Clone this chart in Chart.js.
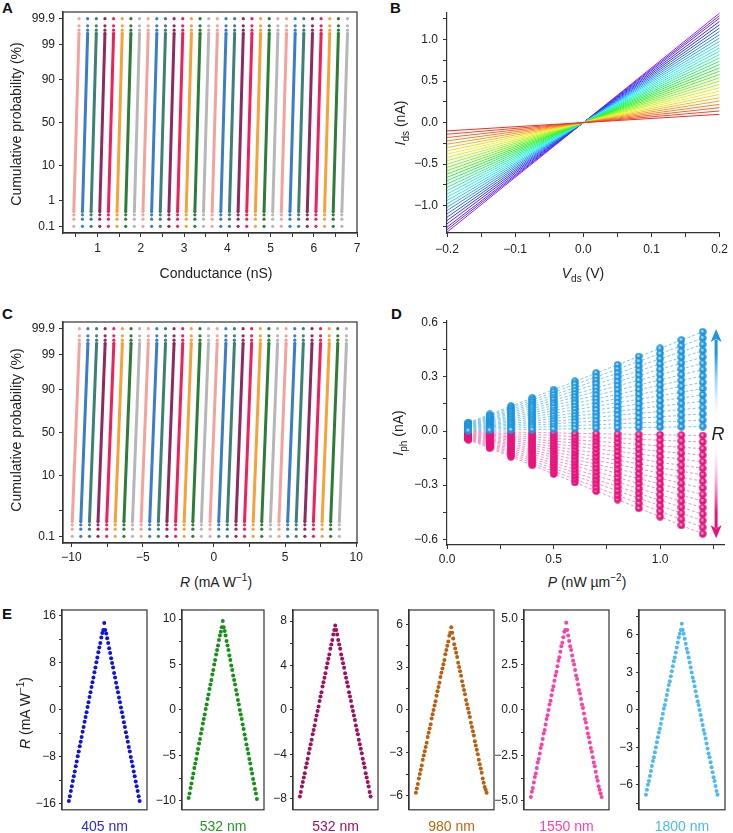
<!DOCTYPE html>
<html><head><meta charset="utf-8">
<script src="https://cdn.jsdelivr.net/npm/chart.js@4.4.1/dist/chart.umd.min.js"></script>
<style>
body{margin:0;background:#fff;width:733px;height:833px;position:relative;overflow:hidden;font-family:"Liberation Sans",Arial,sans-serif;color:#222}
canvas{position:absolute}
.lab{position:absolute;font-size:14px;white-space:nowrap;transform:translate(-50%,-50%);line-height:1}
.rot{transform:translate(-50%,-50%) rotate(-90deg)}
.let{position:absolute;font-weight:bold;font-size:15px;line-height:1;color:#111}
sub,sup{font-size:10px;line-height:0}
</style></head><body>
<div class="let" style="left:2px;top:0px">A</div>
<div class="let" style="left:390px;top:0px">B</div>
<div class="let" style="left:2px;top:306px">C</div>
<div class="let" style="left:391px;top:306px">D</div>
<div class="let" style="left:2px;top:606px">E</div>

<canvas id="cA" width="370" height="270" style="left:0;top:0"></canvas>
<canvas id="cB" width="363" height="270" style="left:370px;top:0"></canvas>
<canvas id="cC" width="370" height="270" style="left:0;top:300px"></canvas>
<canvas id="cD" width="363" height="270" style="left:370px;top:300px"></canvas>

<div class="lab rot" style="left:16px;top:124px">Cumulative probability (%)</div>
<div class="lab" style="left:216px;top:273px">Conductance (nS)</div>
<div class="lab rot" style="left:400px;top:123px"><i>I</i><sub>ds</sub> (nA)</div>
<div class="lab" style="left:583px;top:273px"><i>V</i><sub>ds</sub> (V)</div>
<div class="lab rot" style="left:16px;top:430px">Cumulative probability (%)</div>
<div class="lab" style="left:216px;top:582px"><i>R</i> (mA W<sup>−1</sup>)</div>
<div class="lab rot" style="left:398px;top:433px"><i>I</i><sub>ph</sub> (nA)</div>
<div class="lab" style="left:587px;top:582px"><i>P</i> (nW µm<sup>−2</sup>)</div>
<div class="lab rot" style="left:25px;top:713px"><i>R</i> (mA W<sup>−1</sup>)</div>
<div class="lab" style="left:718px;top:434px;font-size:18px"><i>R</i></div>

<script>
// ---------------- DATA ----------------
// Panel A / C : cumulative-probability levels of the visible end dots (%)
const probLow  = [0.1, 0.2, 0.3, 0.4];
const probHigh = [99.6, 99.7, 99.8, 99.9];
const probTicks  = [0.1, 1, 10, 50, 90, 99, 99.9];
const probLabelsA = ['0.1', '1', '10', '50', '90', '99', '99.9'];
const probLabelsC = ['0.1', '', '10', '50', '90', '99', '99.9'];
// Panel A: conductance (nS) of each of the 32 states at 0.1 % and 99.9 %
const aCondLow  = [0.45,0.65,0.85,1.05,1.25,1.45,1.65,1.85,2.05,2.25,2.45,2.65,2.85,3.05,3.25,3.45,3.65,3.85,4.05,4.25,4.45,4.65,4.85,5.05,5.25,5.45,5.65,5.85,6.05,6.25,6.45,6.65];
const aCondHigh = [0.57,0.77,0.97,1.17,1.37,1.57,1.77,1.97,2.17,2.37,2.57,2.77,2.97,3.17,3.37,3.57,3.77,3.97,4.17,4.37,4.57,4.77,4.97,5.17,5.37,5.57,5.77,5.97,6.17,6.37,6.57,6.78];
const aXTicks = [1,2,3,4,5,6,7];
const aXLabels = ['1','2','3','4','5','6','7'];
const aXMinor = [0.5,1.5,2.5,3.5,4.5,5.5,6.5];
// Panel C: responsivity (mA/W) of each state at 0.1 % and 99.9 %
const cRespLow  = [-9.95,-9.35,-8.74,-8.14,-7.53,-6.93,-6.32,-5.72,-5.11,-4.51,-3.90,-3.30,-2.69,-2.09,-1.48,-0.88,-0.27,0.34,0.94,1.55,2.15,2.76,3.36,3.97,4.57,5.18,5.78,6.39,6.99,7.60,8.20,8.81];
const cRespHigh = [-9.45,-8.85,-8.24,-7.64,-7.03,-6.43,-5.82,-5.22,-4.61,-4.01,-3.40,-2.80,-2.19,-1.59,-0.98,-0.38,0.23,0.84,1.44,2.05,2.65,3.26,3.86,4.47,5.07,5.68,6.28,6.89,7.49,8.10,8.70,9.31];
const cXTicks = [-10,-5,0,5,10];
const cXLabels = ['−10','−5','0','5','10'];
const cXMinor = [-7.5,-2.5,2.5,7.5];
const seriesColors = ['#F4A39C','#3B7EC4','#3E8078','#8E2A62','#F01F5E','#F6A23A','#2F7C3A','#B7B7B7'];

// Panel B: I_ds (nA) of each curve at V_ds = +0.2 V (curves are odd: -I at -0.2 V)
const bVds = [-0.2, 0.2];
const bIdsAt02 = [0.10,0.14,0.18,0.22,0.26,0.30,0.34,0.38,0.42,0.46,0.50,0.54,0.58,0.62,0.66,0.70,0.74,0.78,0.82,0.86,0.90,0.94,0.98,1.02,1.06,1.10,1.14,1.18,1.22,1.26,1.29,1.32];
const bXTicks = [-0.2,-0.1,0,0.1,0.2];
const bXLabels = ['−0.2','−0.1','0.0','0.1','0.2'];
const bXMinor = [-0.15,-0.05,0.05,0.15];
const bYTicks = [-1,-0.5,0,0.5,1];
const bYLabels = ['−1.0','−0.5','0.0','0.5','1.0'];
const bYMinor = [-1.25,-0.75,-0.25,0.25,0.75,1.25];

// Panel D: photocurrent I_ph (nA) vs power density P
const dPower = [0.1,0.2,0.3,0.4,0.5,0.6,0.7,0.8,0.9,1.0,1.1,1.2];
const dIphPos = [
 [0.046,0.092,0.138,0.183,0.229,0.275,0.321,0.367,0.413,0.458,0.504,0.550],
 [0.043,0.086,0.129,0.172,0.215,0.258,0.300,0.343,0.386,0.429,0.472,0.515],
 [0.040,0.080,0.120,0.160,0.200,0.240,0.280,0.320,0.360,0.400,0.440,0.480],
 [0.037,0.074,0.111,0.148,0.185,0.223,0.260,0.297,0.334,0.371,0.408,0.445],
 [0.034,0.068,0.103,0.137,0.171,0.205,0.239,0.273,0.308,0.342,0.376,0.410],
 [0.031,0.063,0.094,0.125,0.156,0.188,0.219,0.250,0.281,0.313,0.344,0.375],
 [0.028,0.057,0.085,0.113,0.142,0.170,0.198,0.227,0.255,0.283,0.312,0.340],
 [0.025,0.051,0.076,0.102,0.127,0.153,0.178,0.203,0.229,0.254,0.280,0.305],
 [0.023,0.045,0.068,0.090,0.113,0.135,0.158,0.180,0.203,0.225,0.248,0.270],
 [0.020,0.039,0.059,0.078,0.098,0.118,0.137,0.157,0.176,0.196,0.215,0.235],
 [0.017,0.033,0.050,0.067,0.083,0.100,0.117,0.133,0.150,0.167,0.183,0.200],
 [0.014,0.028,0.041,0.055,0.069,0.083,0.096,0.110,0.124,0.138,0.151,0.165],
 [0.011,0.022,0.033,0.043,0.054,0.065,0.076,0.087,0.098,0.108,0.119,0.130],
 [0.008,0.016,0.024,0.032,0.040,0.048,0.055,0.063,0.071,0.079,0.087,0.095],
 [0.005,0.010,0.015,0.020,0.025,0.030,0.035,0.040,0.045,0.050,0.055,0.060],
 [0.002,0.004,0.006,0.008,0.010,0.013,0.015,0.017,0.019,0.021,0.023,0.025]
];
const dIphNeg = [
 [-0.048,-0.095,-0.143,-0.190,-0.238,-0.285,-0.333,-0.380,-0.428,-0.475,-0.523,-0.570],
 [-0.045,-0.089,-0.134,-0.178,-0.223,-0.267,-0.312,-0.356,-0.401,-0.445,-0.490,-0.534],
 [-0.041,-0.083,-0.124,-0.166,-0.207,-0.249,-0.290,-0.331,-0.373,-0.414,-0.456,-0.497],
 [-0.038,-0.077,-0.115,-0.154,-0.192,-0.231,-0.269,-0.307,-0.346,-0.384,-0.423,-0.461],
 [-0.035,-0.071,-0.106,-0.142,-0.177,-0.213,-0.248,-0.283,-0.319,-0.354,-0.390,-0.425],
 [-0.032,-0.065,-0.097,-0.129,-0.162,-0.194,-0.226,-0.259,-0.291,-0.323,-0.356,-0.388],
 [-0.029,-0.059,-0.088,-0.117,-0.147,-0.176,-0.205,-0.235,-0.264,-0.293,-0.323,-0.352],
 [-0.026,-0.053,-0.079,-0.105,-0.132,-0.158,-0.184,-0.211,-0.237,-0.263,-0.290,-0.316],
 [-0.023,-0.047,-0.070,-0.093,-0.116,-0.140,-0.163,-0.186,-0.209,-0.233,-0.256,-0.279],
 [-0.020,-0.041,-0.061,-0.081,-0.101,-0.122,-0.142,-0.162,-0.182,-0.203,-0.223,-0.243],
 [-0.017,-0.035,-0.052,-0.069,-0.086,-0.104,-0.121,-0.138,-0.155,-0.173,-0.190,-0.207],
 [-0.014,-0.028,-0.043,-0.057,-0.071,-0.085,-0.099,-0.113,-0.128,-0.142,-0.156,-0.170],
 [-0.011,-0.022,-0.034,-0.045,-0.056,-0.067,-0.078,-0.089,-0.101,-0.112,-0.123,-0.134],
 [-0.008,-0.016,-0.025,-0.033,-0.041,-0.049,-0.057,-0.065,-0.074,-0.082,-0.090,-0.098],
 [-0.005,-0.010,-0.015,-0.020,-0.025,-0.031,-0.036,-0.041,-0.046,-0.051,-0.056,-0.061],
 [-0.002,-0.004,-0.006,-0.008,-0.010,-0.013,-0.015,-0.017,-0.019,-0.021,-0.023,-0.025]
];
const dXTicks = [0,0.5,1];
const dXLabels = ['0.0','0.5','1.0'];
const dXMinor = [0.25,0.75,1.25];
const dYTicks = [-0.6,-0.3,0,0.3,0.6];
const dYLabels = ['−0.6','−0.3','0.0','0.3','0.6'];
const dYMinor = [-0.45,-0.15,0.15,0.45];
const dArrowX = 1.263;
const dArrowUp = [0.02, 0.565];
const dArrowDown = [-0.025, -0.595];

// Panel E: responsivity (mA/W) sweep for six wavelengths
const eWavelengths = ['405 nm','532 nm','532 nm','980 nm','1550 nm','1800 nm'];
const e405 = [-15.5,-14.7,-13.8,-13.0,-12.1,-11.3,-10.5,-9.6,-8.8,-7.9,-7.1,-6.2,-5.4,-4.6,-3.7,-2.9,-2.0,-1.2,-0.4,0.5,1.3,2.2,3.0,3.9,4.7,5.5,6.4,7.2,8.1,8.9,9.8,10.6,11.4,12.3,13.1,13.6,14.8,13.6,13.0,12.2,11.4,10.5,9.7,8.8,8.0,7.2,6.3,5.5,4.6,3.8,3.0,2.1,1.3,0.4,-0.4,-1.2,-2.1,-2.9,-3.8,-4.6,-5.4,-6.3,-7.1,-8.0,-8.8,-9.6,-10.5,-11.3,-12.2,-13.0,-13.8,-14.7,-15.5];
const e532g = [-9.7,-9.2,-8.6,-8.1,-7.5,-7.0,-6.4,-5.9,-5.4,-4.8,-4.3,-3.7,-3.2,-2.6,-2.1,-1.5,-1.0,-0.5,0.1,0.6,1.2,1.7,2.3,2.8,3.3,3.9,4.4,5.0,5.5,6.1,6.6,7.1,7.7,8.2,8.6,9.1,9.8,9.1,8.7,8.2,7.6,7.1,6.6,6.0,5.5,4.9,4.4,3.8,3.3,2.8,2.2,1.7,1.1,0.6,0.0,-0.5,-1.0,-1.6,-2.1,-2.7,-3.2,-3.8,-4.3,-4.8,-5.4,-5.9,-6.5,-7.0,-7.6,-8.1,-8.7,-9.2,-9.8];
const e532m = [-7.8,-7.4,-6.9,-6.5,-6.1,-5.7,-5.2,-4.8,-4.4,-3.9,-3.5,-3.1,-2.7,-2.2,-1.8,-1.4,-0.9,-0.5,-0.1,0.3,0.8,1.2,1.6,2.1,2.5,2.9,3.3,3.8,4.2,4.6,5.0,5.5,5.9,6.3,6.8,7.2,7.6,7.2,6.8,6.3,5.9,5.5,5.0,4.6,4.2,3.8,3.3,2.9,2.5,2.1,1.6,1.2,0.8,0.3,-0.1,-0.5,-0.9,-1.4,-1.8,-2.2,-2.7,-3.1,-3.5,-3.9,-4.4,-4.8,-5.2,-5.7,-6.1,-6.5,-6.9,-7.4,-7.8];
const e980 = [-5.8,-5.5,-5.2,-4.8,-4.5,-4.2,-3.9,-3.5,-3.2,-2.9,-2.6,-2.3,-1.9,-1.6,-1.3,-1.0,-0.6,-0.3,0.0,0.3,0.6,1.0,1.3,1.6,1.9,2.3,2.6,2.9,3.2,3.5,3.9,4.2,4.5,4.8,5.2,5.4,5.8,5.4,5.0,4.6,4.3,4.0,3.7,3.3,3.0,2.7,2.4,2.0,1.7,1.4,1.1,0.7,0.4,0.1,-0.2,-0.5,-0.9,-1.2,-1.5,-1.8,-2.2,-2.5,-2.8,-3.1,-3.5,-3.8,-4.1,-4.4,-4.8,-5.1,-5.4,-5.6,-5.8];
const e1550 = [-4.8,-4.5,-4.3,-4.0,-3.7,-3.5,-3.2,-2.9,-2.7,-2.4,-2.1,-1.9,-1.6,-1.3,-1.1,-0.8,-0.5,-0.3,0.0,0.3,0.5,0.8,1.1,1.3,1.6,1.9,2.1,2.4,2.7,2.9,3.2,3.5,3.7,4.0,4.3,4.4,4.8,4.4,4.1,3.8,3.5,3.3,3.0,2.7,2.5,2.2,1.9,1.7,1.4,1.1,0.9,0.6,0.3,0.1,-0.2,-0.5,-0.7,-1.0,-1.3,-1.5,-1.8,-2.1,-2.3,-2.6,-2.9,-3.1,-3.4,-3.7,-3.9,-4.2,-4.4,-4.6,-4.8];
const e1800 = [-6.8,-6.4,-6.0,-5.7,-5.3,-4.9,-4.5,-4.1,-3.8,-3.4,-3.0,-2.6,-2.2,-1.8,-1.5,-1.1,-0.7,-0.3,0.1,0.4,0.8,1.2,1.6,2.0,2.3,2.7,3.1,3.5,3.9,4.2,4.6,5.0,5.4,5.8,6.1,6.4,6.9,6.4,6.1,5.7,5.3,4.9,4.6,4.2,3.8,3.4,3.0,2.6,2.3,1.9,1.5,1.1,0.7,0.4,0.0,-0.4,-0.8,-1.2,-1.6,-1.9,-2.3,-2.7,-3.1,-3.5,-3.8,-4.2,-4.6,-5.0,-5.4,-5.7,-6.1,-6.5,-6.8];
const eTicks = [[-16,-8,0,8,16],[-10,-5,0,5,10],[-8,-4,0,4,8],[-6,-3,0,3,6],[-5,-2.5,0,2.5,5],[-6,-3,0,3,6]];
const eTickLabels = [['−16','−8','0','8','16'],['−10','−5','0','5','10'],['−8','−4','0','4','8'],['−6','−3','0','3','6'],['−5.0','−2.5','0.0','2.5','5.0'],['−6','−3','0','3','6']];
const eMinor = [[-12,-4,4,12],[-7.5,-2.5,2.5,7.5],[-6,-2,2,6],[-4.5,-1.5,1.5,4.5],[-3.75,-1.25,1.25,3.75],[-7.5,-4.5,-1.5,1.5,4.5,7.5]];

// ---------------- STYLE / LAYOUT ----------------
const eSeries = [e405,e532g,e532m,e980,e1550,e1800];
const eRange = [17,11,9,7,5.5,8];
const eColors = ['#1010E8','#139313','#A0105C','#B9600F','#FF3FA3','#4DB9F3'];
const eLabelColors = ['#2828E8','#1E9A1E','#A0105C','#C0650F','#FF3FA3','#4DB9F3'];
const eFrames = [[62,147],[182,264],[293,378],[409,494],[524,609],[639,725]];

Chart.defaults.font.family = "'Liberation Sans', Arial, sans-serif";
Chart.defaults.font.size = 12;
Chart.defaults.color = '#222';
Chart.defaults.animation = false;
Chart.defaults.plugins.legend.display = false;
Chart.defaults.plugins.tooltip.enabled = false;
Chart.defaults.events = [];
const AXIS = '#333';

function probit(p){
  const a=[-3.969683028665376e+01,2.209460984245205e+02,-2.759285104469687e+02,1.383577518672690e+02,-3.066479806614716e+01,2.506628277459239e+00];
  const b=[-5.447609879822406e+01,1.615858368580409e+02,-1.556989798598866e+02,6.680131188771972e+01,-1.328068155288572e+01];
  const c=[-7.784894002430293e-03,-3.223964580411365e-01,-2.400758277161838e+00,-2.549732539343734e+00,4.374664141464968e+00,2.938163982698783e+00];
  const d=[7.784695709041462e-03,3.224671290700398e-01,2.445134137142996e+00,3.754408661907416e+00];
  const pl=0.02425; let q,r;
  if(p<pl){q=Math.sqrt(-2*Math.log(p));return (((((c[0]*q+c[1])*q+c[2])*q+c[3])*q+c[4])*q+c[5])/((((d[0]*q+d[1])*q+d[2])*q+d[3])*q+1);}
  if(p<=1-pl){q=p-0.5;r=q*q;return (((((a[0]*r+a[1])*r+a[2])*r+a[3])*r+a[4])*r+a[5])*q/(((((b[0]*r+b[1])*r+b[2])*r+b[3])*r+b[4])*r+1);}
  q=Math.sqrt(-2*Math.log(1-p));return -(((((c[0]*q+c[1])*q+c[2])*q+c[3])*q+c[4])*q+c[5])/((((d[0]*q+d[1])*q+d[2])*q+d[3])*q+1);
}
const pz = v => probit(v/100);

function scaleCfg(o){
  const major=o.major, labels=o.labels, minor=o.minor||[];
  return {
    type:'linear', position:o.position, min:o.min, max:o.max, display:o.display!==false, bounds:'data',
    afterBuildTicks(s){ const vals=[...major,...minor].sort((a,b)=>a-b); s.ticks=vals.map(v=>({value:v})); },
    afterFit(s){ if(o.size!=null){ if(s.isHorizontal()) s.height=o.size; else s.width=o.size; } },
    ticks:{ autoSkip:false, maxRotation:0, minRotation:0, padding:o.pad??4, color:'#222', font:{size:12},
      callback(v){ const i=major.findIndex(m=>Math.abs(m-v)<1e-6); return i<0?'':labels[i]; } },
    grid:{ display:true, drawOnChartArea:false, drawTicks:true, tickLength:o.tl??4, tickColor:AXIS, tickWidth:1 },
    border:{ display:true, color:AXIS, width:1.2 }
  };
}
const framePlugin = { id:'frame', afterDatasetsDraw(chart,args,opts){
  if(!opts.box) return; const {left,top,right,bottom}=chart.chartArea; const c=chart.ctx;
  c.save(); c.strokeStyle=AXIS; c.lineWidth=1.2; c.strokeRect(left,top,right-left,bottom-top); c.restore(); } };

function probSeries(lo,hi,col){
  const pts = probLow.map(p=>({x:lo,y:pz(p)})).concat(probHigh.map(p=>({x:hi,y:pz(p)})));
  return { data:pts, borderColor:col, backgroundColor:col, borderWidth:3, pointRadius:1.6, pointBorderWidth:0,
    pointBackgroundColor:col, tension:0,
    segment:{ borderColor: c => c.p0DataIndex===probLow.length-1 ? col : 'rgba(0,0,0,0)' } };
}
const zMin=-3.29, zMax=3.29;

// A
new Chart(document.getElementById('cA'),{
  type:'line',
  data:{datasets: aCondLow.map((lo,k)=>probSeries(lo,aCondHigh[k],seriesColors[k%8]))},
  options:{responsive:false, layout:{padding:{left:0,top:12,right:13,bottom:0}},
    scales:{ x:scaleCfg({position:'bottom',min:0.2,max:7,major:aXTicks,labels:aXLabels,minor:aXMinor,size:37,pad:4}),
             y:scaleCfg({position:'left',min:zMin,max:zMax,major:probTicks.map(pz),labels:probLabelsA,size:63}) },
    plugins:{frame:{box:true}}},
  plugins:[framePlugin]
});
// C
new Chart(document.getElementById('cC'),{
  type:'line',
  data:{datasets: cRespLow.map((lo,k)=>probSeries(lo,cRespHigh[k],seriesColors[k%8]))},
  options:{responsive:false, layout:{padding:{left:0,top:22,right:13,bottom:0}},
    scales:{ x:scaleCfg({position:'bottom',min:-10.6,max:10.05,major:cXTicks,labels:cXLabels,minor:cXMinor,size:27,pad:3}),
             y:scaleCfg({position:'left',min:zMin,max:zMax,major:probTicks.map(pz),labels:probLabelsC,size:63}) },
    plugins:{frame:{box:true}}},
  plugins:[framePlugin]
});
// B
new Chart(document.getElementById('cB'),{
  type:'line',
  data:{datasets: bIdsAt02.map((v,k)=>({
    data:[{x:bVds[0],y:-v},{x:bVds[1],y:v}],
    borderColor:`hsl(${Math.round(k*272/(bIdsAt02.length-1))},88%,56%)`, borderWidth:1, pointRadius:0 }))},
  options:{responsive:false, layout:{padding:{left:0,top:12,right:10,bottom:0}},
    scales:{ x:scaleCfg({position:'bottom',min:-0.2,max:0.2,major:bXTicks,labels:bXLabels,minor:bXMinor,size:37,pad:5}),
             y:scaleCfg({position:'left',min:-1.33,max:1.33,major:bYTicks,labels:bYLabels,minor:bYMinor,size:77,pad:5}) }}
});
// D
function ball(base,light){
  const c=document.createElement('canvas'); c.width=8; c.height=8; const g=c.getContext('2d');
  const gr=g.createRadialGradient(3.3,3,0.2,4,4,4); gr.addColorStop(0,light); gr.addColorStop(0.5,base); gr.addColorStop(1,base);
  g.fillStyle=gr; g.beginPath(); g.arc(4,4,3.7,0,Math.PI*2); g.fill(); return c;
}
const blueBall=ball('#1C95DD','#D6F0FF'), pinkBall=ball('#E8127C','#FFD0E6');
const dDatasets=[];
dDatasets.push({data:dIphPos.flatMap(r=>r.map((v,j)=>({x:dPower[j],y:v}))), showLine:false, pointStyle:blueBall, pointRadius:3.7, order:0});
dDatasets.push({data:dIphNeg.flatMap(r=>r.map((v,j)=>({x:dPower[j],y:v}))), showLine:false, pointStyle:pinkBall, pointRadius:3.7, order:0});
dIphPos.forEach(r=>dDatasets.push({data:r.map((v,j)=>({x:dPower[j],y:v})), borderColor:'rgba(110,190,236,0.85)', borderWidth:1, borderDash:[3,2], pointRadius:0, order:1}));
dIphNeg.forEach(r=>dDatasets.push({data:r.map((v,j)=>({x:dPower[j],y:v})), borderColor:'rgba(242,128,180,0.85)', borderWidth:1, borderDash:[3,2], pointRadius:0, order:1}));
const arrowPlugin={id:'arrows', afterDatasetsDraw(chart){
  const {x,y}=chart.scales; const ctx=chart.ctx; const ax=x.getPixelForValue(dArrowX);
  function arrow(v0,v1,col){
    const y0=y.getPixelForValue(v0), y1=y.getPixelForValue(v1); const dir=Math.sign(y1-y0); const hl=13, hw=5.5;
    const g=ctx.createLinearGradient(0,y0,0,y1); g.addColorStop(0,'rgba(255,255,255,0)'); g.addColorStop(0.75,col); g.addColorStop(1,col);
    ctx.save(); ctx.strokeStyle=g; ctx.lineWidth=3; ctx.beginPath(); ctx.moveTo(ax,y0); ctx.lineTo(ax,y1-dir*hl*0.8); ctx.stroke();
    ctx.fillStyle=col; ctx.beginPath(); ctx.moveTo(ax,y1); ctx.lineTo(ax-hw,y1-dir*hl); ctx.lineTo(ax,y1-dir*hl*0.75); ctx.lineTo(ax+hw,y1-dir*hl); ctx.closePath(); ctx.fill(); ctx.restore();
  }
  arrow(dArrowUp[0],dArrowUp[1],'#1C95DD'); arrow(dArrowDown[0],dArrowDown[1],'#E8127C');
}};
new Chart(document.getElementById('cD'),{
  type:'line', data:{datasets:dDatasets},
  options:{responsive:false, layout:{padding:{left:0,top:21,right:9,bottom:0}},
    scales:{ x:scaleCfg({position:'bottom',min:-0.0005,max:1.3,major:dXTicks,labels:dXLabels,minor:dXMinor,size:25,pad:3}),
             y:scaleCfg({position:'left',min:-0.632,max:0.61,major:dYTicks,labels:dYLabels,minor:dYMinor,size:77,pad:5}) }},
  plugins:[arrowPlugin]
});
// E
eSeries.forEach((vals,i)=>{
  const [L,R]=eFrames[i]; const left=L-36, w=R-left+4;
  const cv=document.createElement('canvas'); cv.width=w; cv.height=222; cv.style.left=left+'px'; cv.style.top='598px';
  document.body.appendChild(cv);
  const lab=document.createElement('div'); lab.className='lab'; lab.textContent=eWavelengths[i];
  lab.style.left=((L+R)/2)+'px'; lab.style.top='826px'; lab.style.color=eLabelColors[i]; document.body.appendChild(lab);
  new Chart(cv,{
    type:'scatter',
    data:{datasets:[{data:vals.map((v,j)=>({x:j,y:v})), pointRadius:2.0, pointBorderWidth:0, pointBackgroundColor:eColors[i], backgroundColor:eColors[i]}]},
    options:{responsive:false, layout:{padding:{left:0,top:12,right:4,bottom:6}},
      scales:{ x:{type:'linear',display:false,min:-7,max:vals.length-1+7.5},
               y:scaleCfg({position:'left',min:-eRange[i],max:eRange[i],major:eTicks[i],labels:eTickLabels[i],minor:eMinor[i],size:36,pad:3,tl:3}) },
      plugins:{frame:{box:true}}},
    plugins:[framePlugin]
  });
});
</script>
</body></html>
